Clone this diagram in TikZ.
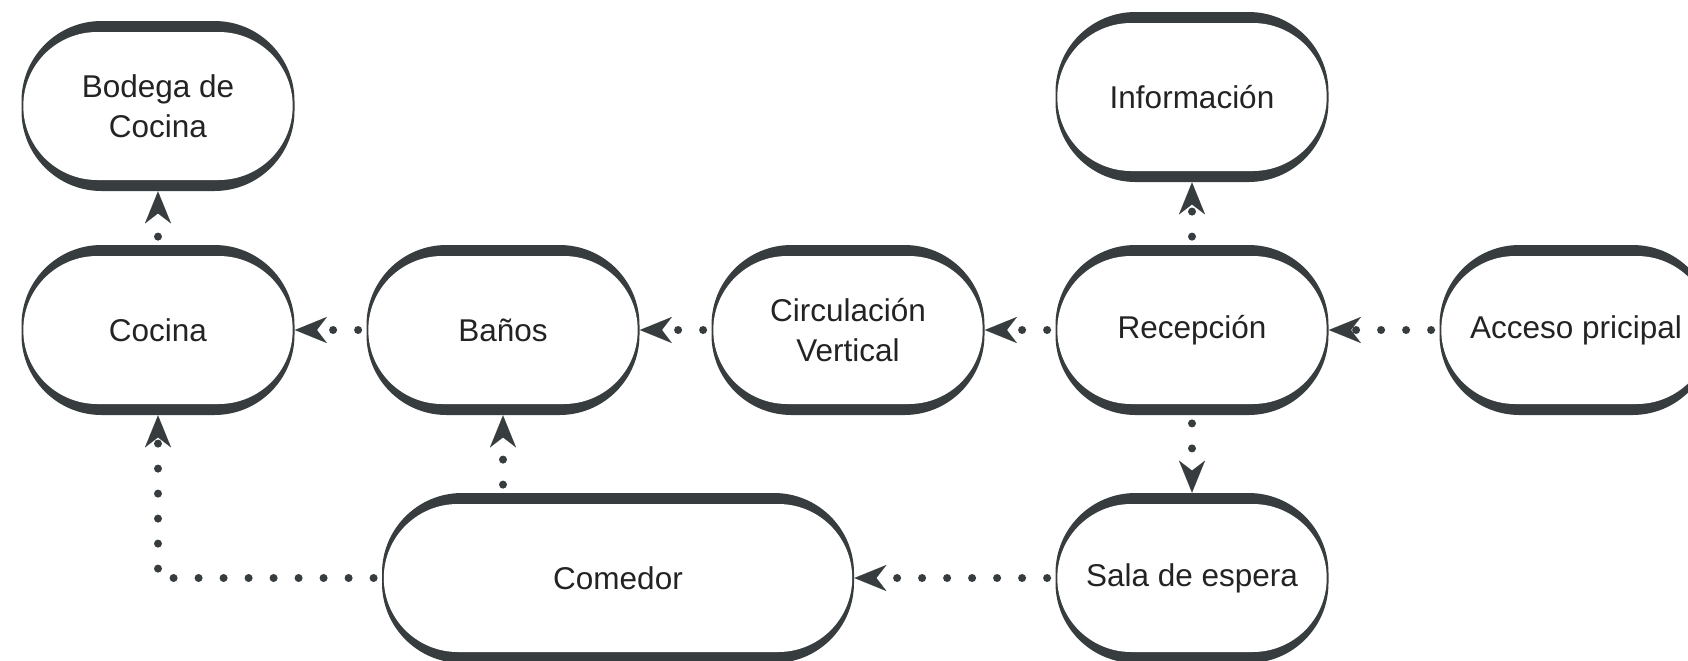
\documentclass[tikz,border=0pt]{standalone}
\usepackage{fontspec}
\setmainfont{Liberation Sans}
\usetikzlibrary{arrows.meta}
\definecolor{dk}{RGB}{55,60,62}
\definecolor{txt}{RGB}{35,35,35}
\tikzset{
  stad/.style={rectangle, rounded corners=40pt, minimum height=85pt,
    minimum width=136.5pt, inner sep=0pt, fill=dk, align=center,
    text=txt, font=\fontsize{15.75}{20}\selectfont,
    path picture={\fill[white, rounded corners=37pt]
      ([xshift=0.9pt,yshift=-5.5pt]path picture bounding box.north west) rectangle
      ([xshift=-0.9pt,yshift=5.5pt]path picture bounding box.south east);}},
  conn/.style={draw=dk, line width=4pt, line cap=round,
    dash pattern=on 0pt off 12.5pt, shorten <=4pt,
    -{Stealth[length=16pt,width=13pt,inset=5pt,line width=0.01pt,round]}},
}
\begin{document}
\begin{tikzpicture}[x=0.5pt,y=-0.5pt]
\useasboundingbox (0,0) rectangle (1688,660);
\clip (0,0) rectangle (1688,660);
\fill[white] (0,0) rectangle (1688,660);
\node[stad] (bod) at (158,106) {Bodega de\\Cocina};
\node[stad] (coc) at (158,330) {Cocina};
\node[stad] (ban) at (503,330) {Baños};
\node[stad] (cir) at (848,330) {Circulación\\Vertical};
\node[stad] (rec) at (1192,330) {Recepción};
\node[stad] (acc) at (1576,330) {Acceso pricipal};
\node[stad] (inf) at (1192,97) {Información};
\node[stad, minimum width=236pt] (com) at (618,578) {Comedor};
\node[stad] (sal) at (1192,578) {Sala de espera};
\draw[conn] (coc.north) -- (bod.south);
\draw[conn] (ban.west) -- (coc.east);
\draw[conn] (cir.west) -- (ban.east);
\draw[conn] (rec.west) -- (cir.east);
\draw[conn] (acc.west) -- (rec.east);
\draw[conn] (rec.north) -- (inf.south);
\draw[conn] (rec.south) -- (sal.north);
\draw[conn] (sal.west) -- (com.east);
\draw[conn] (com.north -| ban.south) -- (ban.south);
\draw[conn] (com.west) -| (coc.south);
\end{tikzpicture}
\end{document}
